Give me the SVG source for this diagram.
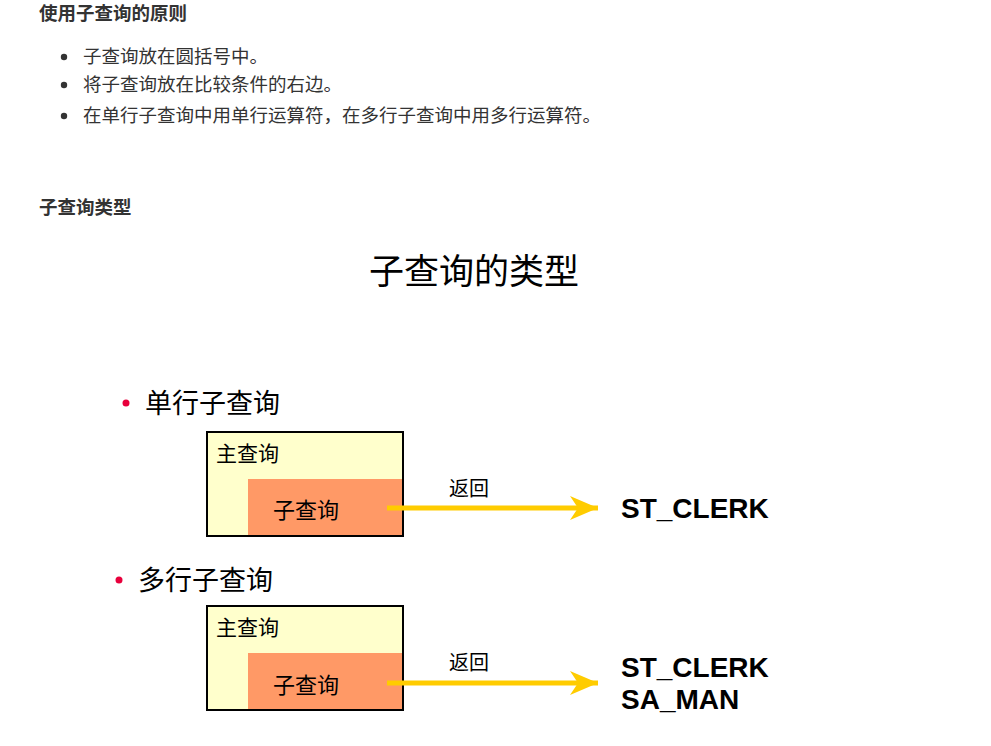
<svg xmlns="http://www.w3.org/2000/svg" width="991" height="746" viewBox="0 0 991 746">
<style>
.h{font-family:"Noto Sans CJK SC",sans-serif;font-weight:bold;font-size:18.5px;fill:#333}
.li{font-family:"Noto Sans CJK SC",sans-serif;font-size:18.5px;fill:#333}
.cj{font-family:"Noto Sans CJK SC",sans-serif;fill:#000}
.en{font-family:"Liberation Sans",Arial,sans-serif;font-weight:bold;font-size:28px;fill:#000}
.outer{fill:#FFFFCC;stroke:#000;stroke-width:2}
.inner{fill:#FF9966}
.arr{stroke:#FFCC00;stroke-width:5;fill:none}
</style>
<defs>
<marker id="ah" markerWidth="30" markerHeight="24" refX="28" refY="12" markerUnits="userSpaceOnUse" orient="auto">
<path d="M0,0 L28,12 L0,24 L8,12 Z" fill="#FFCC00"/>
</marker>
</defs>
<rect width="991" height="746" fill="#fff"/>
<text class="h" x="39" y="20">使用子查询的原则</text>
<g fill="#333"><circle cx="64" cy="57" r="3.2"/><circle cx="64" cy="85" r="3.2"/><circle cx="64" cy="116" r="3.2"/></g>
<text class="li" x="83" y="63">子查询放在圆括号中。</text>
<text class="li" x="83" y="91">将子查询放在比较条件的右边。</text>
<text class="li" x="83" y="122">在单行子查询中用单行运算符，在多行子查询中用多行运算符。</text>
<text class="h" x="39" y="214">子查询类型</text>
<text class="cj" x="369" y="284" font-size="35">子查询的类型</text>
<g id="single">
<circle cx="126" cy="403" r="3.5" fill="#E8003C"/>
<text class="cj" x="145" y="413" font-size="27">单行子查询</text>
<rect class="outer" x="207" y="432" width="196" height="104"/>
<rect class="inner" x="248" y="479" width="154" height="56"/>
<text class="cj" x="216" y="461" font-size="21">主查询</text>
<text class="cj" x="273" y="518" font-size="22">子查询</text>
</g>
<g id="multi">
<circle cx="119" cy="580" r="3.5" fill="#E8003C"/>
<text class="cj" x="138" y="590" font-size="27">多行子查询</text>
<rect class="outer" x="207" y="606" width="196" height="104"/>
<rect class="inner" x="248" y="653" width="154" height="56"/>
<text class="cj" x="216" y="635" font-size="21">主查询</text>
<text class="cj" x="273" y="693" font-size="22">子查询</text>
</g>
<g id="connectors">
<line class="arr" x1="387" y1="508" x2="598" y2="508" marker-end="url(#ah)"/>
<line class="arr" x1="387" y1="683" x2="598" y2="683" marker-end="url(#ah)"/>
</g>
<text class="cj" x="449" y="496" font-size="20">返回</text>
<text class="cj" x="449" y="670" font-size="20">返回</text>
<text class="en" x="621" y="518">ST_CLERK</text>
<text class="en" x="621" y="677">ST_CLERK</text>
<text class="en" x="621" y="709">SA_MAN</text>
</svg>
